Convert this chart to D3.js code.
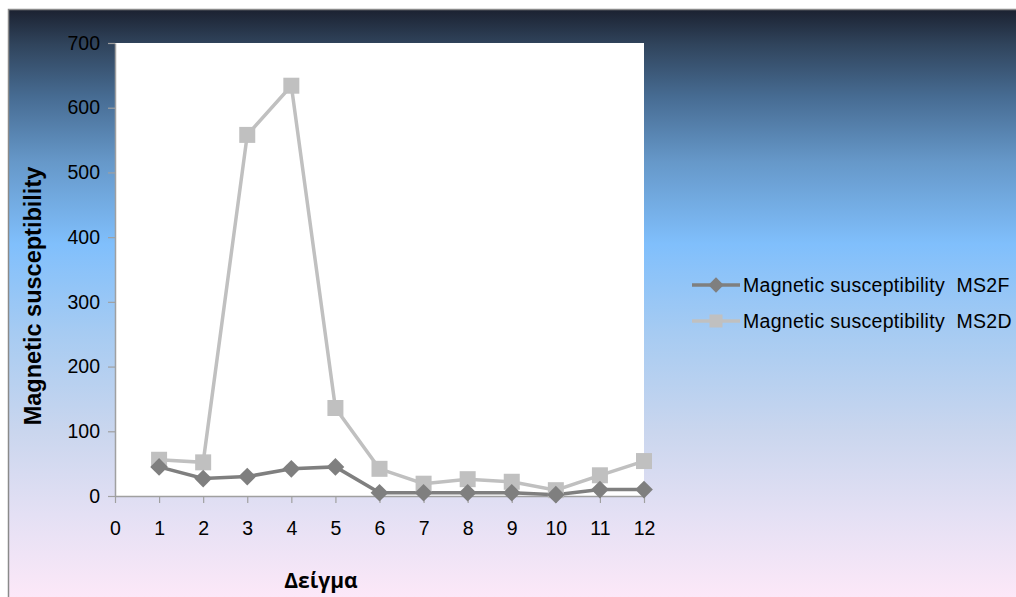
<!DOCTYPE html>
<html>
<head>
<meta charset="utf-8">
<script src="https://cdn.jsdelivr.net/npm/d3@7"></script>
<style>
  html, body { margin: 0; padding: 0; background: #ffffff; }
  svg { display: block; }
</style>
</head>
<body>
<svg id="chart" width="1016" height="597"></svg>
<script>
// Sample numbers and measured magnetic susceptibility for the two series
const samples = [1, 2, 3, 4, 5, 6, 7, 8, 9, 10, 11, 12];
const ms2f = [45, 27, 30, 42, 45, 5, 5, 5, 5, 2, 10, 10];
const ms2d = [56, 52, 558, 634, 136, 42, 19, 26, 22, 9, 32, 54];
const seriesNames = ["Magnetic susceptibility  MS2F", "Magnetic susceptibility  MS2D"];
const xTicks = [0, 1, 2, 3, 4, 5, 6, 7, 8, 9, 10, 11, 12];
const yTicks = [0, 100, 200, 300, 400, 500, 600, 700];

const svg = d3.select("#chart");
const W = 1016, H = 597;
const plot = { left: 115, right: 644, top: 43, bottom: 496 };

// Backdrop gradient: dark navy at the top fading through sky blue to pale pink
const defs = svg.append("defs");
const grad = defs.append("linearGradient")
  .attr("id", "bg").attr("x1", 0).attr("y1", 0).attr("x2", 0).attr("y2", 1);
[
  [0.00, "#1b2130"],
  [0.06, "#30445c"],
  [0.15, "#476c93"],
  [0.26, "#6698c9"],
  [0.40, "#80bffc"],
  [0.55, "#a6cbf2"],
  [0.72, "#cad6ee"],
  [0.86, "#e4e0f4"],
  [1.00, "#fce8f8"]
].forEach(([o, c]) => grad.append("stop").attr("offset", o).attr("stop-color", c));

svg.append("rect")
  .attr("x", 8).attr("y", 9).attr("width", W - 8).attr("height", H - 9)
  .attr("fill", "url(#bg)");
svg.append("path")
  .attr("d", `M8.5,${H} V9.5 H${W}`)
  .attr("fill", "none").attr("stroke", "#8a8a8a").attr("stroke-width", 1.5);

// Plot area
svg.append("rect")
  .attr("x", plot.left).attr("y", plot.top)
  .attr("width", plot.right - plot.left).attr("height", plot.bottom - plot.top)
  .attr("fill", "#ffffff");

const x = d3.scaleLinear().domain([0, 12]).range([plot.left, plot.right]);
const y = d3.scaleLinear().domain([0, 700]).range([plot.bottom, plot.top]);

const font = "'Liberation Sans', Arial, sans-serif";

// Axes
const yAxis = svg.append("g")
  .attr("transform", `translate(${plot.left},0)`)
  .call(d3.axisLeft(y).tickValues(yTicks).tickSize(7).tickPadding(7).tickSizeOuter(0));
const xAxis = svg.append("g")
  .attr("transform", `translate(0,${plot.bottom})`)
  .call(d3.axisBottom(x).tickValues(xTicks).tickSize(7).tickPadding(18).tickSizeOuter(0));
[yAxis, xAxis].forEach(g => {
  g.select(".domain").attr("stroke", "#a0a0a0").attr("stroke-width", 1.5);
  g.selectAll(".tick line").attr("stroke", "#a0a0a0").attr("stroke-width", 1.2);
  g.selectAll(".tick text")
    .attr("fill", "#000").style("font-family", font).style("font-size", "19.5px");
});
yAxis.selectAll(".tick text").attr("x", -15);

// Series lines and markers
const line = d3.line().x((d, i) => x(samples[i])).y(d => y(d));
const colF = "#7f7f7f", colD = "#c0c0c0";

svg.append("path").datum(ms2d).attr("d", line)
  .attr("fill", "none").attr("stroke", colD).attr("stroke-width", 3.5);
svg.append("path").datum(ms2f).attr("d", line)
  .attr("fill", "none").attr("stroke", colF).attr("stroke-width", 3.5);

const sq = 16;
svg.append("g").selectAll("rect").data(ms2d).join("rect")
  .attr("x", (d, i) => x(samples[i]) - sq / 2)
  .attr("y", d => y(d) - sq / 2)
  .attr("width", sq).attr("height", sq)
  .attr("fill", colD);

const diamond = d3.symbol().type(d3.symbolDiamond2).size(200);
svg.append("g").selectAll("path").data(ms2f).join("path")
  .attr("transform", (d, i) => `translate(${x(samples[i])},${y(d)})`)
  .attr("d", diamond)
  .attr("fill", colF);

// Axis titles
svg.append("text")
  .attr("transform", `translate(41,296) rotate(-90)`)
  .attr("text-anchor", "middle")
  .style("font-family", font).style("font-size", "23.5px").style("font-weight", "bold")
  .text("Magnetic susceptibility");
svg.append("text")
  .attr("x", 321).attr("y", 588)
  .attr("text-anchor", "middle")
  .style("font-family", "'Open Sans', 'DejaVu Sans', sans-serif")
  .style("font-size", "21px").style("font-weight", "bold")
  .text("Δείγμα");

// Legend
const legend = svg.append("g");
const legendRows = [
  { name: seriesNames[0], color: colF, kind: "diamond", cy: 285 },
  { name: seriesNames[1], color: colD, kind: "square", cy: 321 }
];
legendRows.forEach(r => {
  legend.append("line")
    .attr("x1", 692).attr("x2", 740).attr("y1", r.cy).attr("y2", r.cy)
    .attr("stroke", r.color).attr("stroke-width", 3.5);
  if (r.kind === "diamond") {
    legend.append("path")
      .attr("transform", `translate(716,${r.cy})`)
      .attr("d", d3.symbol().type(d3.symbolDiamond2).size(150))
      .attr("fill", r.color);
  } else {
    legend.append("rect")
      .attr("x", 716 - 6.5).attr("y", r.cy - 6.5).attr("width", 13).attr("height", 13)
      .attr("fill", r.color);
  }
  legend.append("text")
    .attr("x", 743).attr("y", r.cy + 7)
    .style("font-family", font).style("font-size", "19.5px")
    .style("white-space", "pre").style("letter-spacing", "0.3px")
    .attr("fill", "#000")
    .text(r.name);
});
</script>
</body>
</html>
